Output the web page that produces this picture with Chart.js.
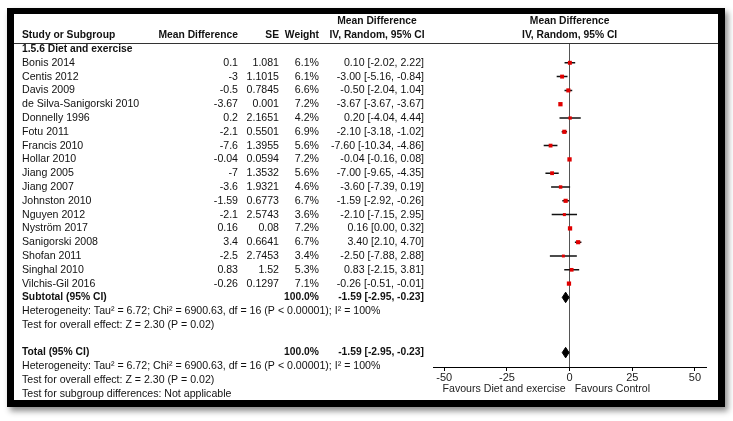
<!DOCTYPE html>
<html>
<head>
<meta charset="utf-8">
<script src="https://cdn.jsdelivr.net/npm/chart.js@4.4.1/dist/chart.umd.min.js"></script>
<style>
  html, body { margin: 0; padding: 0; background: #fff; }
  body { width: 733px; height: 421px; position: relative; overflow: hidden; }
  #frame {
    position: absolute; left: 7px; top: 8px; width: 704px; height: 386px;
    border: 7px solid #000; border-top-width: 6px;
    box-shadow: 3px 4px 6px rgba(0, 0, 0, 0.45); background: #fff;
  }
  #forest { position: absolute; left: 0; top: 0; }
</style>
</head>
<body>
<div id="frame"></div>
<canvas id="forest" width="733" height="421"></canvas>
<script>
// Datos del forest plot
const estudios = [
  'Bonis 2014', 'Centis 2012', 'Davis 2009', 'de Silva-Sanigorski 2010', 'Donnelly 1996',
  'Fotu 2011', 'Francis 2010', 'Hollar 2010', 'Jiang 2005', 'Jiang 2007', 'Johnston 2010',
  'Nguyen 2012', 'Nyström 2017', 'Sanigorski 2008', 'Shofan 2011', 'Singhal 2010', 'Vilchis-Gil 2016'
];
const diferencia = [0.1, -3, -0.5, -3.67, 0.2, -2.1, -7.6, -0.04, -7, -3.6, -1.59, -2.1, 0.16, 3.4, -2.5, 0.83, -0.26];
const errorEst = [1.081, 1.1015, 0.7845, 0.001, 2.1651, 0.5501, 1.3955, 0.0594, 1.3532, 1.9321, 0.6773, 2.5743, 0.08, 0.6641, 2.7453, 1.52, 0.1297];
const pesos = [6.1, 6.1, 6.6, 7.2, 4.2, 6.9, 5.6, 7.2, 5.6, 4.6, 6.7, 3.6, 7.2, 6.7, 3.4, 5.3, 7.1];
const ciBajo = [-2.02, -5.16, -2.04, -3.67, -4.04, -3.18, -10.34, -0.16, -9.65, -7.39, -2.92, -7.15, 0.00, 2.10, -7.88, -2.15, -0.51];
const ciAlto = [2.22, -0.84, 1.04, -3.67, 4.44, -1.02, -4.86, 0.08, -4.35, 0.19, -0.26, 2.95, 0.32, 4.70, 2.88, 3.81, -0.01];
const totalEst = -1.59, totalBajo = -2.95, totalAlto = -0.23, totalPeso = 100.0;
const xTicks = [-50, -25, 0, 25, 50];

const hetTexto = 'Heterogeneity: Tau\u00b2 = 6.72; Chi\u00b2 = 6900.63, df = 16 (P < 0.00001); I\u00b2 = 100%';
const efectoTexto = 'Test for overall effect: Z = 2.30 (P = 0.02)';

// filas: 0 = subgrupo, 1..17 estudios, 18 subtotal, 22 total
const filaSubtotal = estudios.length + 1;
const filaTotal = filaSubtotal + 4;

const FONT = "'Liberation Sans', Arial, sans-serif";
const fmt2 = v => v.toFixed(2);
const ciTexto = (e, l, h) => `${fmt2(e)} [${fmt2(l)}, ${fmt2(h)}]`;

// segmentos del intervalo de confianza
const lineasCI = [];
estudios.forEach((_, i) => {
  lineasCI.push({ x: ciBajo[i], y: i + 1 }, { x: ciAlto[i], y: i + 1 }, { x: null, y: i + 1 });
});
const puntos = diferencia.map((d, i) => ({ x: d, y: i + 1 }));
const radios = pesos.map(w => 1.6 * Math.sqrt(w) / Math.SQRT2);

function diamante(fila) {
  const h = 0.38;
  return [
    { x: totalBajo, y: fila }, { x: totalEst, y: fila - h },
    { x: totalAlto, y: fila }, { x: totalEst, y: fila + h }, { x: totalBajo, y: fila }
  ];
}

const tablaPlugin = {
  id: 'tabla',
  afterDraw(chart) {
    const ctx = chart.ctx;
    const ys = chart.scales.y, xs = chart.scales.x;
    const fy = r => ys.getPixelForValue(r);
    const x0 = xs.getPixelForValue(0);
    ctx.save();

    // línea bajo el encabezado
    const top = Math.round(chart.chartArea.top) + 0.5;
    ctx.strokeStyle = '#333';
    ctx.lineWidth = 1;
    ctx.beginPath();
    ctx.moveTo(14, top);
    ctx.lineTo(718, top);
    ctx.stroke();

    ctx.fillStyle = '#111';
    ctx.textBaseline = 'middle';
    const put = (txt, x, r, align, bold) => {
      ctx.font = (bold ? 'bold 10.3px ' : '10.6px ') + FONT;
      ctx.textAlign = align;
      ctx.fillText(txt, x, fy(r));
    };

    const xNom = 22, xMD = 238, xSE = 279, xPeso = 319, xCI = 424, xCIc = 377;

    // encabezados
    put('Mean Difference', xCIc, -2, 'center', true);
    put('Mean Difference', x0, -2, 'center', true);
    put('Study or Subgroup', xNom, -1, 'left', true);
    put('Mean Difference', xMD, -1, 'right', true);
    put('SE', xSE, -1, 'right', true);
    put('Weight', xPeso, -1, 'right', true);
    put('IV, Random, 95% CI', xCIc, -1, 'center', true);
    put('IV, Random, 95% CI', x0, -1, 'center', true);
    put('1.5.6 Diet and exercise', xNom, 0, 'left', true);

    estudios.forEach((nombre, i) => {
      const r = i + 1;
      put(nombre, xNom, r, 'left', false);
      put(String(diferencia[i]), xMD, r, 'right', false);
      put(String(errorEst[i]), xSE, r, 'right', false);
      put(pesos[i].toFixed(1) + '%', xPeso, r, 'right', false);
      put(ciTexto(diferencia[i], ciBajo[i], ciAlto[i]), xCI, r, 'right', false);
    });

    [[filaSubtotal, 'Subtotal (95% CI)'], [filaTotal, 'Total (95% CI)']].forEach(([r, etiqueta]) => {
      put(etiqueta, xNom, r, 'left', true);
      put(totalPeso.toFixed(1) + '%', xPeso, r, 'right', true);
      put(ciTexto(totalEst, totalBajo, totalAlto), xCI, r, 'right', true);
      put(hetTexto, xNom, r + 1, 'left', false);
      put(efectoTexto, xNom, r + 2, 'left', false);
    });
    put('Test for subgroup differences: Not applicable', xNom, filaTotal + 3, 'left', false);

    // leyendas del eje
    ctx.font = '10.6px ' + FONT;
    ctx.fillStyle = '#222';
    ctx.textAlign = 'right';
    ctx.fillText('Favours Diet and exercise', x0 - 4, 389);
    ctx.textAlign = 'left';
    ctx.fillText('Favours Control', x0 + 5, 389);
    ctx.restore();
  }
};

new Chart(document.getElementById('forest').getContext('2d'), {
  type: 'scatter',
  data: {
    datasets: [
      {
        label: 'CI',
        data: lineasCI,
        order: 2,
        showLine: true,
        spanGaps: false,
        borderColor: '#111',
        borderWidth: 1.5,
        pointRadius: 0
      },
      {
        label: 'Estudios',
        data: puntos,
        order: 0,
        pointStyle: 'rect',
        pointRadius: radios,
        backgroundColor: '#e00000',
        borderWidth: 0
      },
      {
        type: 'line',
        label: 'Subtotal',
        data: diamante(filaSubtotal),
        order: 1,
        borderColor: '#000',
        backgroundColor: '#000',
        borderWidth: 1,
        pointRadius: 0,
        tension: 0,
        fill: 'shape'
      },
      {
        type: 'line',
        label: 'Total',
        data: diamante(filaTotal),
        order: 1,
        borderColor: '#000',
        backgroundColor: '#000',
        borderWidth: 1,
        pointRadius: 0,
        tension: 0,
        fill: 'shape'
      }
    ]
  },
  options: {
    responsive: false,
    devicePixelRatio: 1,
    animation: false,
    layout: { padding: { left: 433, right: 27, top: 43, bottom: 0 } },
    plugins: { legend: { display: false }, tooltip: { enabled: false } },
    scales: {
      x: {
        type: 'linear',
        min: -54.5,
        max: 54.4,
        afterBuildTicks: s => { s.ticks = xTicks.map(v => ({ value: v })); },
        afterFit: s => { s.height = 54; },
        grid: {
          drawOnChartArea: true,
          color: c => (c.tick && c.tick.value === 0 ? '#555' : 'rgba(0,0,0,0)'),
          tickColor: '#000',
          tickLength: 4
        },
        border: { color: '#000', width: 1 },
        ticks: { padding: 0, autoSkip: false, maxRotation: 0, color: '#222', font: { family: FONT, size: 11 } }
      },
      y: {
        type: 'linear',
        display: false,
        reverse: true,
        min: -0.435,
        max: 23.043
      }
    }
  },
  plugins: [tablaPlugin]
});
</script>
</body>
</html>
